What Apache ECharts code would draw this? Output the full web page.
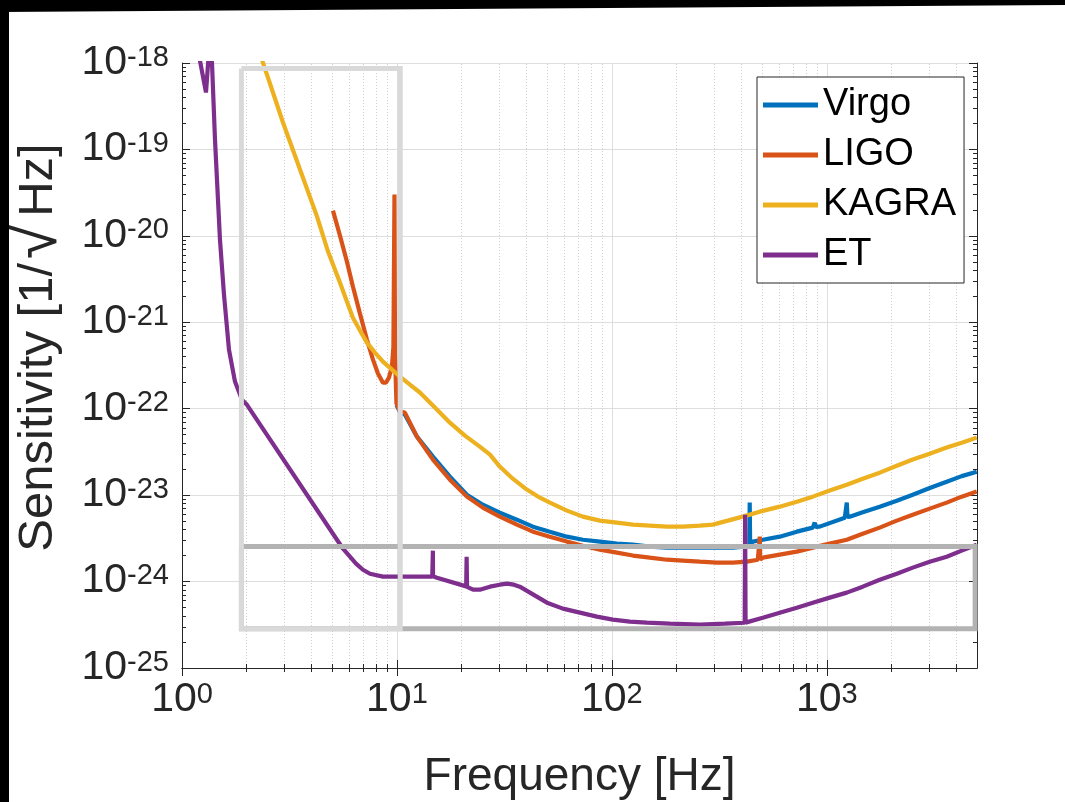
<!DOCTYPE html>
<html>
<head>
<meta charset="utf-8">
<script src="https://cdn.jsdelivr.net/npm/echarts@6/dist/echarts.min.js"></script>
<style>
html,body{margin:0;padding:0;background:#fff;}
#c{width:1065px;height:802px;}
</style>
</head>
<body>
<div id="c"></div>
<script>
// ---- data (frequency in Hz, sensitivity in 1/sqrt(Hz)) ----
const virgoF = [9.95, 10.33, 10.89, 12.39, 14.71, 17.64, 21.16, 25.1, 30.1, 36.14, 42.93, 51.47, 61.77, 73.32, 87.96, 105.5, 125.3, 150.2, 180.3, 213.9, 256.6, 307.8, 365.5, 415, 436, 438, 440, 452.6, 504, 604, 725.4, 861, 870, 879, 888, 927, 1213, 1230, 1239, 1248, 1279, 1470, 1764, 2117, 2512, 3013, 3614, 4246, 4986];
const virgoS = [1.1e-22, 9.2e-23, 8.55e-23, 4.75e-23, 2.79e-23, 1.64e-23, 1.01e-23, 7.76e-24, 6.27e-24, 5.2e-24, 4.32e-24, 3.78e-24, 3.31e-24, 3.05e-24, 2.9e-24, 2.75e-24, 2.67e-24, 2.54e-24, 2.47e-24, 2.47e-24, 2.47e-24, 2.47e-24, 2.47e-24, 2.54e-24, 2.56e-24, 8.19e-24, 2.62e-24, 2.9e-24, 3.05e-24, 3.31e-24, 3.78e-24, 4.21e-24, 4.25e-24, 4.81e-24, 4.3e-24, 4.32e-24, 5.49e-24, 5.55e-24, 8.19e-24, 5.6e-24, 5.64e-24, 6.35e-24, 7.36e-24, 8.63e-24, 1.01e-23, 1.21e-23, 1.43e-23, 1.66e-23, 1.87e-23];

const ligoF = [5.04, 5.43, 5.85, 6.24, 6.73, 7.25, 7.73, 8.16, 8.61, 8.89, 9.18, 9.48, 9.63, 9.74, 9.80, 9.95, 10.33, 10.89, 12.39, 14.71, 17.64, 21.16, 25.1, 30.1, 36.14, 42.93, 51.47, 61.77, 73.32, 87.96, 105.5, 125.3, 150.2, 180.3, 213.9, 256.6, 307.8, 365.5, 424.6, 477.8, 486, 488, 490, 504, 604, 725.4, 861, 1032, 1239, 1470, 1764, 2117, 2512, 3013, 3614, 4246, 4986];
const ligoS = [1.96e-20, 1.01e-20, 5.04e-21, 2.59e-21, 1.26e-21, 6.31e-22, 3.72e-22, 2.55e-22, 2.0e-22, 2.0e-22, 2.29e-22, 3.07e-22, 5.24e-22, 3.0e-20, 4.0e-22, 1.15e-22, 9.25e-23, 9.02e-23, 4.75e-23, 2.58e-23, 1.51e-23, 9.61e-24, 7.17e-24, 5.64e-24, 4.56e-24, 3.78e-24, 3.31e-24, 2.9e-24, 2.6e-24, 2.34e-24, 2.16e-24, 2.0e-24, 1.89e-24, 1.79e-24, 1.75e-24, 1.7e-24, 1.66e-24, 1.66e-24, 1.7e-24, 1.79e-24, 1.79e-24, 3.31e-24, 1.8e-24, 1.89e-24, 2.05e-24, 2.22e-24, 2.47e-24, 2.75e-24, 3.05e-24, 3.58e-24, 4.21e-24, 5.07e-24, 5.94e-24, 6.98e-24, 8.19e-24, 9.61e-24, 1.1e-23];

const kagraF = [2.26, 2.38, 2.65, 2.95, 3.54, 4.25, 4.78, 5.43, 5.85, 6.24, 6.73, 7.25, 7.9, 8.61, 9.48, 10.33, 11.5, 12.79, 15.02, 17.64, 20.72, 24.3, 27.1, 30.1, 34.6, 40.2, 46.3, 51.5, 61.8, 73.3, 87.96, 105.5, 125.3, 150.2, 180.3, 213.9, 256.6, 295, 346.4, 406.6, 488, 604, 725.4, 861, 1032, 1239, 1470, 1764, 2117, 2512, 3013, 3614, 4246, 4986];
const kagraS = [1.64e-18, 1.01e-18, 4.56e-19, 2.05e-19, 5.85e-20, 1.67e-20, 6.58e-21, 2.88e-21, 1.74e-21, 1.13e-21, 8.02e-22, 5.82e-22, 4.46e-22, 3.51e-22, 2.83e-22, 2.35e-22, 1.9e-22, 1.54e-22, 1.03e-22, 6.9e-23, 4.88e-23, 3.64e-23, 2.94e-23, 2.14e-23, 1.55e-23, 1.16e-23, 9.35e-24, 8.19e-24, 6.62e-24, 5.64e-24, 5.07e-24, 4.81e-24, 4.56e-24, 4.44e-24, 4.32e-24, 4.32e-24, 4.44e-24, 4.56e-24, 5.07e-24, 5.64e-24, 6.44e-24, 7.36e-24, 8.41e-24, 9.61e-24, 1.13e-23, 1.32e-23, 1.55e-23, 1.82e-23, 2.19e-23, 2.58e-23, 3.02e-23, 3.55e-23, 4.05e-23, 4.63e-23];

const etF = [1.16, 1.293, 1.35, 1.379, 1.424, 1.502, 1.568, 1.654, 1.764, 1.901, 2.006, 5.26, 5.61, 6.045, 6.45, 6.95, 7.49, 8.61, 10.1, 14.6, 14.68, 14.7, 14.72, 15.35, 21.0, 21.1, 21.2, 22.6, 24.3, 27.1, 30.1, 32.5, 35.0, 37.3, 41.6, 49.9, 59.2, 71.0, 85.2, 101, 121.3, 145.5, 186.1, 257, 335.5, 415, 417, 419, 504, 604, 725.4, 861, 1032, 1239, 1470, 1764, 2117, 2512, 3013, 3614, 4246, 4986];
const etS = [1.9e-18, 4.56e-19, 2.0e-18, 1.0e-18, 1.3e-19, 9.06e-21, 2.09e-21, 4.83e-22, 2.06e-22, 1.27e-22, 1.11e-22, 3.05e-24, 2.4e-24, 1.94e-24, 1.61e-24, 1.37e-24, 1.23e-24, 1.14e-24, 1.14e-24, 1.14e-24, 1.15e-24, 2.28e-24, 1.15e-24, 1.11e-24, 8.8e-25, 1.94e-24, 8.7e-25, 8.05e-25, 8.05e-25, 8.73e-25, 9.2e-25, 9.46e-25, 9.2e-25, 8.73e-25, 7.45e-25, 5.7e-25, 4.86e-25, 4.37e-25, 3.93e-25, 3.63e-25, 3.44e-25, 3.35e-25, 3.26e-25, 3.17e-25, 3.26e-25, 3.34e-25, 5.94e-24, 3.35e-25, 3.82e-25, 4.37e-25, 4.99e-25, 5.7e-25, 6.52e-25, 7.45e-25, 8.73e-25, 1.05e-24, 1.23e-24, 1.45e-24, 1.7e-24, 1.94e-24, 2.28e-24, 2.67e-24];

// highlight boxes (corners in data units)
const boxLightF = [1.89, 10.36, 10.36, 1.89, 1.89];
const boxLightS = [8.64e-19, 8.64e-19, 2.85e-25, 2.85e-25, 8.64e-19];
const boxDarkF = [1.89, 4900, 4900, 1.89, 1.89];
const boxDarkS = [2.54e-24, 2.54e-24, 2.85e-25, 2.85e-25, 2.54e-24];

// ticks
const xMajor = [1, 10, 100, 1000];
const yMajor = [1e-25, 1e-24, 1e-23, 1e-22, 1e-21, 1e-20, 1e-19, 1e-18];
const xMinor = [];
for (let e = 0; e <= 3; e++) for (let k = 2; k <= 9; k++) { const v = k * Math.pow(10, e); if (v < 5000) xMinor.push(v); }
const yMinor = [];
for (let e = -25; e <= -19; e++) for (let k = 2; k <= 9; k++) yMinor.push(k * Math.pow(10, e));

const xMin = 1, xMax = 5000, yMin = 1e-25, yMax = 1e-18;

// ---- helpers ----
function pairs(f, s) { return f.map((v, i) => [v, s[i]]); }
const FONT = "'Liberation Sans', Arial, Helvetica, sans-serif";
const AX = '#262626';
function supFmt(v) { const e = Math.round(Math.log10(v)); return '{b|10}{s|' + e + '}'; }
const rich = {
  b: { fontSize: 41, lineHeight: 40, padding: [10, 0, 0, 0], verticalAlign: 'bottom', fontFamily: FONT, color: AX },
  s: { fontSize: 29, lineHeight: 34, verticalAlign: 'top', fontFamily: FONT, color: AX }
};
function logAxis(base, extra) {
  return Object.assign({
    type: 'log', logBase: 10, min: base[0], max: base[1],
    axisLine: { show: false }, axisLabel: { show: false }, splitLine: { show: false },
    axisTick: { show: false }
  }, extra);
}

const chart = echarts.init(document.getElementById('c'), null, { renderer: 'canvas' });
const lineStyleCommon = { width: 4.2 };

const option = {
  animation: false,
  backgroundColor: '#ffffff',
  grid: { left: 182, right: 88, top: 63, bottom: 134, containLabel: false, outerBoundsMode: 'none' },
  legend: {
    data: ['Virgo', 'LIGO', 'KAGRA', 'ET'],
    orient: 'vertical', left: 757, top: 77,
    padding: [9, 8, 9, 6], itemGap: 12, itemWidth: 55, itemHeight: 5,
    icon: 'rect',
    backgroundColor: '#ffffff', borderColor: AX, borderWidth: 1, borderRadius: 0,
    textStyle: { fontSize: 38, color: '#000', fontFamily: FONT },
    z: 20
  },
  xAxis: [
    logAxis([xMin, xMax], {
      position: 'bottom',
      name: 'Frequency [Hz]', nameLocation: 'middle', nameGap: 86,
      nameTextStyle: { fontSize: 46, color: AX, fontFamily: FONT },
      axisLine: { show: true, lineStyle: { color: AX, width: 1 } },
      axisTick: { show: true, inside: true, length: 8, lineStyle: { color: AX }, customValues: xMajor },
      axisLabel: { show: true, margin: 12, formatter: supFmt, rich: rich, customValues: xMajor, hideOverlap: false },
      splitLine: { show: true, lineStyle: { color: '#dedede', width: 1, type: 'solid' } }
    }),
    logAxis([xMin, xMax], {
      position: 'bottom',
      axisTick: { show: true, inside: true, length: 4, lineStyle: { color: AX }, customValues: xMinor }
    }),
    logAxis([xMin, xMax], {
      position: 'top',
      axisLine: { show: true, lineStyle: { color: AX, width: 1 } },
      axisTick: { show: true, inside: true, length: 8, lineStyle: { color: AX }, customValues: xMajor }
    }),
    logAxis([xMin, xMax], {
      position: 'top',
      axisTick: { show: true, inside: true, length: 4, lineStyle: { color: AX }, customValues: xMinor }
    })
  ],
  yAxis: [
    logAxis([yMin, yMax], {
      position: 'left',
      name: '{a|Sensitivity [1/}{r|\u221A}{a|Hz]}', nameLocation: 'middle', nameGap: 110, nameRotate: 90,
      nameTextStyle: {
        color: AX, fontFamily: FONT, fontSize: 49, padding: [0, 0, 0, 36],
        rich: {
          a: { fontSize: 49, lineHeight: 49, fontFamily: FONT, color: AX, verticalAlign: 'middle' },
          r: { fontSize: 64, lineHeight: 49, fontFamily: FONT, color: AX, verticalAlign: 'middle', padding: [0, 7, 0, 4] }
        }
      },
      axisLine: { show: true, lineStyle: { color: AX, width: 1 } },
      axisTick: { show: true, inside: true, length: 8, lineStyle: { color: AX }, customValues: yMajor },
      axisLabel: { show: true, margin: 13, formatter: supFmt, rich: rich, customValues: yMajor, hideOverlap: false },
      splitLine: { show: true, lineStyle: { color: '#dedede', width: 1, type: 'solid' } }
    }),
    logAxis([yMin, yMax], {
      position: 'left',
      axisTick: { show: true, inside: true, length: 4, lineStyle: { color: AX }, customValues: yMinor }
    }),
    logAxis([yMin, yMax], {
      position: 'right',
      axisLine: { show: true, lineStyle: { color: AX, width: 1 } },
      axisTick: { show: true, inside: true, length: 8, lineStyle: { color: AX }, customValues: yMajor }
    }),
    logAxis([yMin, yMax], {
      position: 'right',
      axisTick: { show: true, inside: true, length: 4, lineStyle: { color: AX }, customValues: yMinor }
    })
  ],
  graphic: [
    { type: 'polygon', shape: { points: [[0, 0], [1065, 0], [1065, 5], [0, 12]] }, style: { fill: '#000' }, z: 100 },
    { type: 'rect', shape: { x: 0, y: 0, width: 9, height: 802 }, style: { fill: '#000' }, z: 100 }
  ],
  series: [
    {
      name: 'minorGrid', type: 'line', data: [], silent: true, symbol: 'none',
      markLine: {
        silent: true, symbol: ['none', 'none'], z: 0, animation: false,
        label: { show: false },
        lineStyle: { color: '#cfcfcf', width: 1, type: [1, 2] },
        emphasis: { disabled: true },
        data: xMinor.map(v => ({ xAxis: v })).concat(yMinor.map(v => ({ yAxis: v })))
      }
    },
    { name: 'Virgo', type: 'line', data: pairs(virgoF, virgoS), symbol: 'none', color: '#0072BD', lineStyle: lineStyleCommon, z: 3 },
    { name: 'LIGO', type: 'line', data: pairs(ligoF, ligoS), symbol: 'none', color: '#D95319', lineStyle: lineStyleCommon, z: 4 },
    { name: 'KAGRA', type: 'line', data: pairs(kagraF, kagraS), symbol: 'none', color: '#EDB120', lineStyle: lineStyleCommon, z: 5 },
    { name: 'ET', type: 'line', data: pairs(etF, etS), symbol: 'none', color: '#7E2F8E', lineStyle: lineStyleCommon, z: 6 },
    { name: 'boxDark', type: 'line', data: pairs(boxDarkF, boxDarkS), symbol: 'none', color: '#b3b3b3', lineStyle: { width: 5, join: 'miter' }, z: 7, silent: true },
    { name: 'boxLight', type: 'line', data: pairs(boxLightF, boxLightS), symbol: 'none', color: '#d9d9d9', lineStyle: { width: 5, join: 'miter' }, z: 8, silent: true }
  ]
};
chart.setOption(option);
</script>
</body>
</html>
